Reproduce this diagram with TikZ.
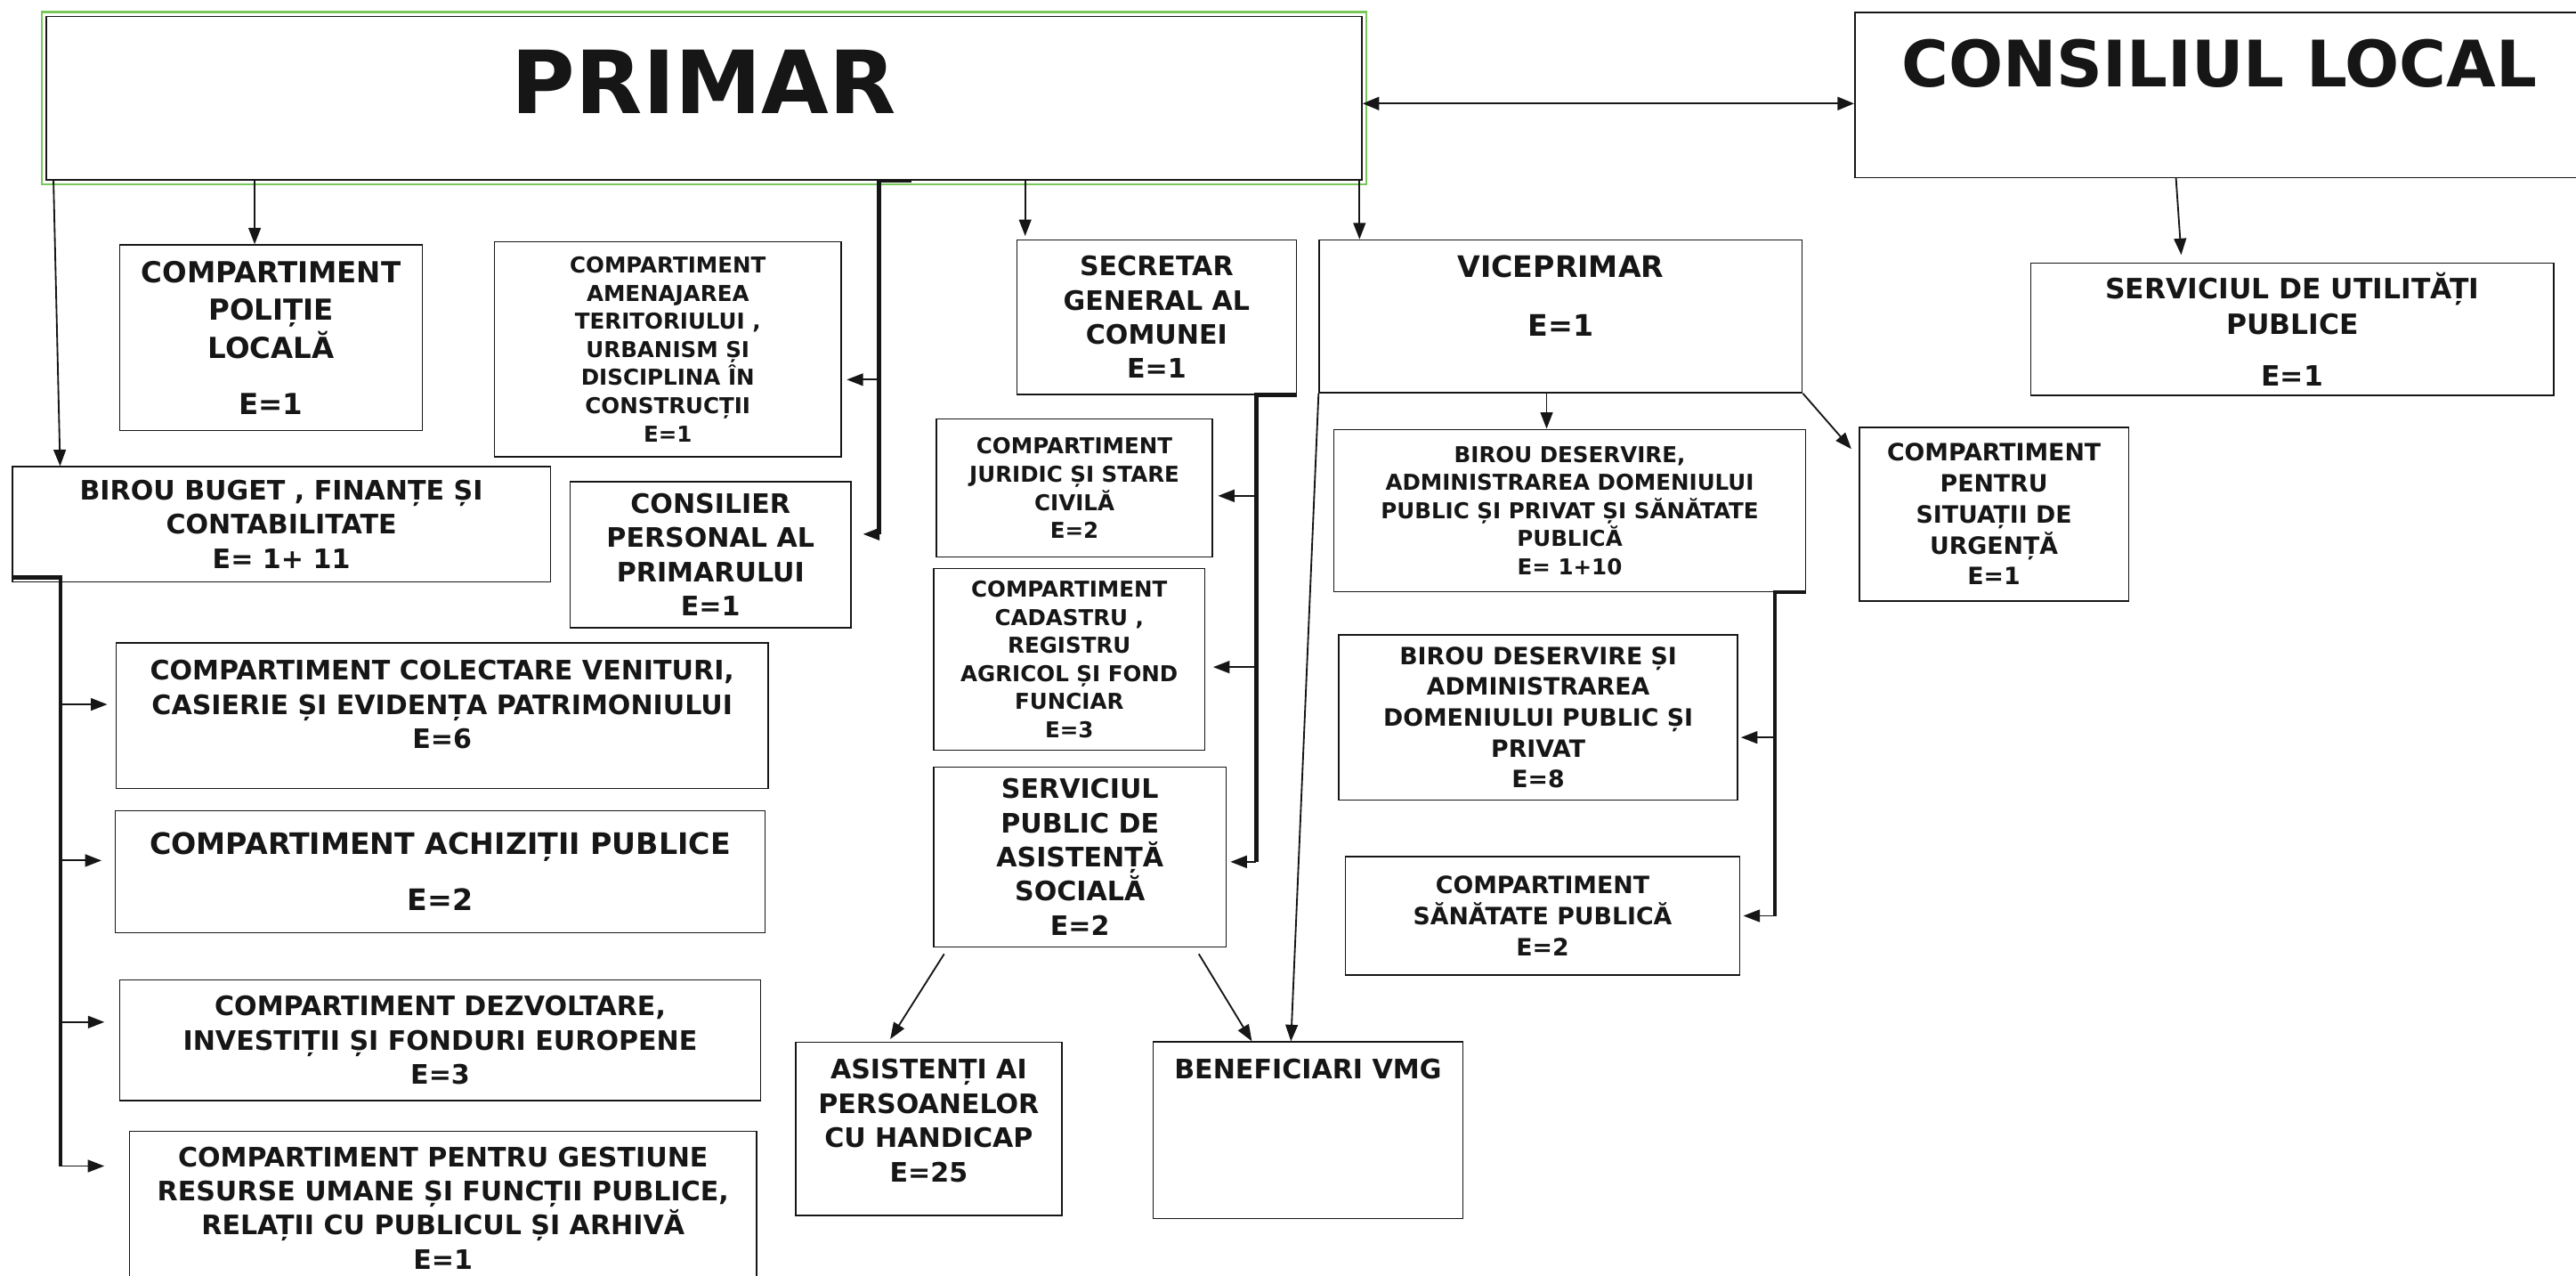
\documentclass[tikz,border=0pt]{standalone}
\usepackage{fontspec}
\setmainfont{DejaVu Sans}
\usepackage{xcolor}
\usetikzlibrary{arrows.meta}
\definecolor{ink}{RGB}{22,22,22}
\definecolor{primgreen}{RGB}{120,200,90}
\tikzset{ % boxes and connectors of the chart
unitbox/.style={draw=ink, line width=0.8pt, rectangle, align=center, inner sep=0pt, text=ink},
headbox/.style={draw=ink, line width=0.9pt, rectangle, inner sep=0pt, text=ink},
txtsmall/.style={font=\fontsize{13.3}{17.1}\selectfont\bfseries},
txtmid/.style={font=\fontsize{14.5}{18.8}\selectfont\bfseries},
txtnorm/.style={font=\fontsize{16.3}{20.8}\selectfont\bfseries},
txtbig/.style={font=\fontsize{17.6}{23}\selectfont\bfseries},
txtlarge/.style={font=\fontsize{18}{23}\selectfont\bfseries},
link/.style={draw=ink, line width=1pt, -{Triangle[length=10pt,width=7.5pt]}},
bothway/.style={draw=ink, line width=1.2pt, {Triangle[length=10pt,width=8pt]}-{Triangle[length=10pt,width=8pt]}},
bus/.style={draw=ink, line width=2.4pt},
}

\begin{document}
\begin{tikzpicture}[x=1pt, y=-1pt]
  \useasboundingbox (0,0) rectangle (1568,776);
  \clip (0,0) rectangle (1568,776);
  \fill [white] (0,0) rectangle (1568,776);

  % top level
  \node [headbox, minimum width=801pt, minimum height=99.5pt, text depth=20pt,
         font=\fontsize{53}{60}\selectfont\bfseries] (primar) at (428.5,59.75) {PRIMAR};
  \draw [primgreen, line width=1.2pt] ([shift={(-2.2pt,-2.2pt)}]primar.south west) rectangle ([shift={(2.2pt,2.2pt)}]primar.north east);
  \node [headbox, minimum width=444pt, minimum height=100.5pt, text depth=38.5pt,
         font=\fontsize{39}{46}\selectfont\bfseries] (consiliu) at (1351,57.75) {CONSILIUL LOCAL};
  \node [unitbox, font=\fontsize{17}{21.5}\selectfont\bfseries, minimum width=318.5pt, minimum height=80.5pt] (servutil) at (1395.3,200.25)
        {SERVICIUL DE UTILITĂȚI\\PUBLICE\\[10pt]E=1};

  % under the mayor
  \node [unitbox, txtbig, minimum width=184pt, minimum height=113pt] (politie) at (165,205.5)
        {COMPARTIMENT\\POLIȚIE\\LOCALĂ\\[11pt]E=1};
  \node [unitbox, txtsmall, minimum width=211pt, minimum height=131pt] (amenaj) at (406.5,212.5)
        {COMPARTIMENT\\AMENAJAREA\\TERITORIULUI ,\\URBANISM ȘI\\DISCIPLINA ÎN\\CONSTRUCȚII\\E=1};
  \node [unitbox, txtnorm, minimum width=327.5pt, minimum height=70pt] (buget) at (171.25,319)
        {BIROU BUGET , FINANȚE ȘI\\CONTABILITATE\\E= 1+ 11};
  \node [unitbox, txtnorm, minimum width=171pt, minimum height=89pt] (consilier) at (432.5,337.5)
        {CONSILIER\\PERSONAL AL\\PRIMARULUI\\E=1};
  \node [unitbox, txtnorm, minimum width=170pt, minimum height=94pt] (secretar) at (704,193)
        {SECRETAR\\GENERAL AL\\COMUNEI\\E=1};
  \node [unitbox, txtlarge, minimum width=294pt, minimum height=93pt] (vice) at (950,192.5)
        {VICEPRIMAR\\[13pt]E=1\\[2pt]\mbox{}};

  % under the secretary
  \node [unitbox, txtsmall, minimum width=168pt, minimum height=84pt] (juridic) at (654,297)
        {COMPARTIMENT\\JURIDIC ȘI STARE\\CIVILĂ\\E=2};
  \node [unitbox, txtsmall, minimum width=165pt, minimum height=110.5pt] (cadastru) at (650.85,401.3)
        {COMPARTIMENT\\CADASTRU ,\\REGISTRU\\AGRICOL ȘI FOND\\FUNCIAR\\E=3};
  \node [unitbox, txtnorm, minimum width=178pt, minimum height=109.5pt] (spas) at (657.35,521.4)
        {SERVICIUL\\PUBLIC DE\\ASISTENȚĂ\\SOCIALĂ\\E=2};
  \node [unitbox, txtnorm, minimum width=162pt, minimum height=105.5pt] (asist) at (565.3,686.8)
        {ASISTENȚI AI\\PERSOANELOR\\CU HANDICAP\\E=25\\[-10.8pt]\mbox{}};
  \node [unitbox, txtnorm, minimum width=188.5pt, minimum height=107.5pt] (benef) at (796.15,687.7)
        {BENEFICIARI VMG\\[54pt]\mbox{}};

  % under the deputy mayor
  \node [unitbox, txtsmall, minimum width=287pt, minimum height=98.7pt] (bdesv) at (955.5,310.65)
        {BIROU DESERVIRE,\\ADMINISTRAREA DOMENIULUI\\PUBLIC ȘI PRIVAT ȘI SĂNĂTATE\\PUBLICĂ\\E= 1+10};
  \node [unitbox, txtmid, minimum width=164pt, minimum height=105.7pt] (urgenta) at (1213.7,312.85)
        {COMPARTIMENT\\PENTRU\\SITUAȚII DE\\URGENȚĂ\\E=1};
  \node [unitbox, txtmid, minimum width=242.6pt, minimum height=100.6pt] (bdsi) at (936.3,436.6)
        {BIROU DESERVIRE ȘI\\ADMINISTRAREA\\DOMENIULUI PUBLIC ȘI\\PRIVAT\\E=8};
  \node [unitbox, txtmid, minimum width=240pt, minimum height=72pt] (sanatate) at (938.95,557.25)
        {COMPARTIMENT\\SĂNĂTATE PUBLICĂ\\E=2};

  % under the budget office
  \node [unitbox, txtnorm, minimum width=396.7pt, minimum height=88.6pt] (colect) at (269.15,435.5)
        {COMPARTIMENT COLECTARE VENITURI,\\CASIERIE ȘI EVIDENȚA PATRIMONIULUI\\E=6\\[-7pt]\mbox{}};
  \node [unitbox, txtlarge, minimum width=395.7pt, minimum height=74.4pt] (achiz) at (267.95,530.4)
        {COMPARTIMENT ACHIZIȚII PUBLICE\\[11pt]E=2};
  \node [unitbox, txtnorm, minimum width=390pt, minimum height=73.4pt] (dezv) at (267.95,633)
        {COMPARTIMENT DEZVOLTARE,\\INVESTIȚII ȘI FONDURI EUROPENE\\E=3};
  \node [unitbox, txtnorm, minimum width=381.8pt, minimum height=93pt] (gestiune) at (269.7,735)
        {COMPARTIMENT PENTRU GESTIUNE\\RESURSE UMANE ȘI FUNCȚII PUBLICE,\\RELAȚII CU PUBLICUL ȘI ARHIVĂ\\E=1};

  % connectors
  \coordinate (pe) at ([yshift=-3.25pt]primar.east);
  \draw [bothway] (pe) -- (pe -| consiliu.west);
  \draw [link] ([xshift=-26.5pt]consiliu.south) -- ([xshift=-67.6pt, yshift=4.5pt]servutil.north);
  \draw [link] ([xshift=5pt]primar.south west) -- ([xshift=29.5pt]buget.north west);
  \coordinate (pl) at ([xshift=-10pt]politie.north);
  \draw [link] (pl |- primar.south) -- (pl);
  \coordinate (sc) at ([xshift=-80pt, yshift=2pt]secretar.north);
  \draw [link] (sc |- primar.south) -- (sc);
  \coordinate (vp) at ([xshift=-122.5pt]vice.north);
  \draw [link] (vp |- primar.south) -- (vp);

  \coordinate (b1) at ([xshift=106.5pt]primar.south);
  \coordinate (am) at ([xshift=3pt, yshift=-18.5pt]amenaj.east);
  \coordinate (cs) at ([xshift=7pt, yshift=12.5pt]consilier.east);
  \draw [bus] ([xshift=20pt]b1) -- (b1) -- (b1 |- cs);
  \draw [link] (b1 |- am) -- (am);
  \draw [link] (b1 |- cs) -- (cs);

  \coordinate (b2) at ([xshift=-24.7pt]secretar.south east);
  \coordinate (ju) at ([xshift=3pt, yshift=-4.7pt]juridic.east);
  \coordinate (cd) at ([xshift=4.7pt, yshift=-4.6pt]cadastru.east);
  \coordinate (sp) at ([xshift=2.2pt, yshift=-3pt]spas.east);
  \draw [bus] (secretar.south east) -- (b2) -- (b2 |- sp);
  \draw [link] (b2 |- ju) -- (ju);
  \draw [link] (b2 |- cd) -- (cd);
  \draw [link] (b2 |- sp) -- (sp);
  \draw [link] ([xshift=-82.65pt, yshift=-3.9pt]spas.south) -- ([xshift=-23.4pt, yshift=1.4pt]asist.north);
  \draw [link] ([xshift=72.35pt, yshift=-3.9pt]spas.south) -- ([xshift=-34.15pt]benef.north);

  \coordinate (vd) at ([xshift=-14.1pt]bdesv.north);
  \draw [link] (vd |- vice.south) -- (vd);
  \draw [link] (vice.south east) -- ([xshift=-4.4pt, yshift=-13.6pt]urgenta.north west);
  \draw [link] (vice.south west) -- ([xshift=-10.35pt]benef.north);

  \coordinate (b3) at ([xshift=-19pt]bdesv.south east);
  \coordinate (bs) at ([xshift=1.7pt, yshift=-12.1pt]bdsi.east);
  \coordinate (sn) at ([xshift=1.8pt]sanatate.east);
  \draw [bus] (bdesv.south east) -- (b3) -- (b3 |- sn);
  \draw [link] (b3 |- bs) -- (bs);
  \draw [link] (b3 |- sn) -- (sn);

  \coordinate (b4) at ([xshift=29.8pt, yshift=3pt]buget.south west);
  \coordinate (co) at ([xshift=-5.1pt, yshift=6.9pt]colect.west);
  \coordinate (ac) at ([xshift=-7.9pt, yshift=6.8pt]achiz.west);
  \coordinate (dz) at ([xshift=-9pt, yshift=11.1pt]dezv.west);
  \coordinate (ge) at ([xshift=-14.9pt, yshift=25.5pt]gestiune.west);
  \draw [bus] ([yshift=3pt]buget.south west) -- (b4) -- (b4 |- ge);
  \draw [link] (b4 |- co) -- (co);
  \draw [link] (b4 |- ac) -- (ac);
  \draw [link] (b4 |- dz) -- (dz);
  \draw [link] (b4 |- ge) -- (ge);
\end{tikzpicture}
\end{document}
